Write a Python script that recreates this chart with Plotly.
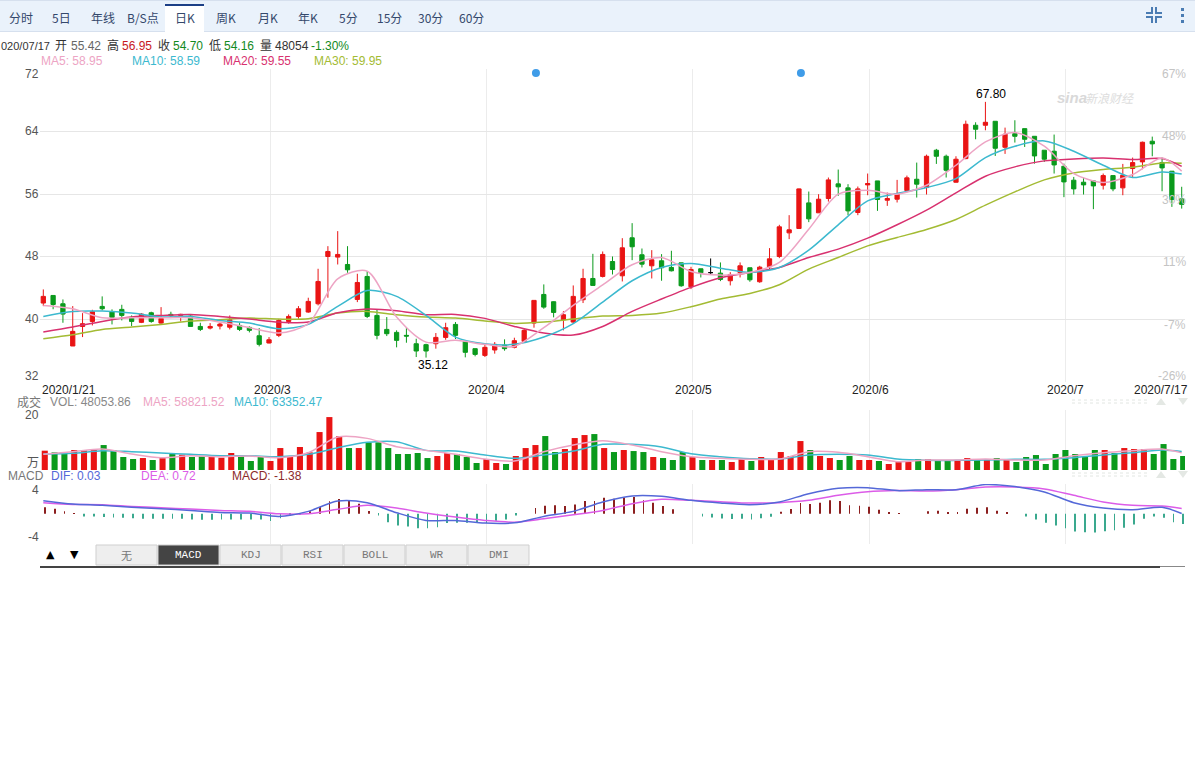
# -*- coding: utf-8 -*-
# K线图 2020/1/21 - 2020/7/17
import plotly.graph_objects as go

# %%
# === Dados ===
month_days = [
    (1, [21, 22, 23]),
    (2, [3, 4, 5, 6, 7, 10, 11, 12, 13, 14, 17, 18, 19, 20, 21, 24, 25, 26, 27, 28]),
    (3, [2, 3, 4, 5, 6, 9, 10, 11, 12, 13, 16, 17, 18, 19, 20, 23, 24, 25, 26, 27, 30, 31]),
    (4, [1, 2, 3, 7, 8, 9, 10, 13, 14, 15, 16, 17, 20, 21, 22, 23, 24, 27, 28, 29, 30]),
    (5, [6, 7, 8, 11, 12, 13, 14, 15, 18, 19, 20, 21, 22, 25, 26, 27, 28, 29]),
    (6, [1, 2, 3, 4, 5, 8, 9, 10, 11, 12, 15, 16, 17, 18, 19, 22, 23, 24, 29, 30]),
    (7, [1, 2, 3, 6, 7, 8, 9, 10, 13, 14, 15, 16, 17]),
]
dates = [f'2020/{m}/{d}' for m, days in month_days for d in days]

opens = [42.09, 43.06, 42.0, 36.6, 39.1, 39.74, 41.66, 40.94, 41.28, 40.26,
         39.62, 40.85, 39.53, 40.64, 40.51, 40.43, 39.1, 38.89, 39.15, 39.0,
         39.23, 38.98, 37.91, 36.98, 37.96, 39.74, 40.38, 40.94, 42.0, 48.04,
         47.96, 47.02, 42.55, 45.49, 40.51, 38.72, 38.34, 37.96, 36.89, 36.77,
         36.89, 37.7, 39.36, 37.19, 36.26, 35.4, 36.09, 36.72, 36.43, 37.19,
         39.53, 43.19, 42.26, 39.96, 39.66, 42.51, 45.23, 45.49, 47.4, 45.57,
         50.43, 48.26, 46.85, 47.49, 46.64, 47.23, 44.17, 46.47, 45.98, 45.91,
         44.94, 46.0, 46.6, 44.81, 46.72, 48.04, 51.06, 51.62, 54.89, 53.62,
         55.45, 57.32, 56.81, 53.66, 57.19, 57.7, 55.23, 55.36, 56.47, 57.91,
         56.85, 61.62, 60.85, 57.53, 60.55, 64.81, 64.81, 65.32, 62.0, 63.74,
         64.38, 63.4, 61.62, 61.49, 59.57, 57.79, 57.53, 57.7, 57.15, 58.38,
         56.81, 59.28, 60.13, 62.77, 60.04, 58.94, 55.42]
closes = [42.94, 41.9, 40.68, 38.47, 39.45, 40.98, 41.36, 40.26, 40.51, 39.74,
          40.68, 39.74, 40.13, 40.47, 40.64, 39.1, 38.72, 39.1, 39.4, 39.96,
          38.72, 38.6, 36.81, 37.4, 39.87, 40.38, 41.36, 42.3, 44.85, 48.68,
          48.3, 46.34, 44.72, 40.38, 37.96, 38.17, 37.32, 37.87, 35.96, 35.96,
          37.7, 38.94, 37.96, 35.79, 35.53, 36.43, 36.81, 36.26, 37.28, 38.6,
          42.43, 41.57, 40.89, 40.6, 42.94, 45.23, 44.34, 48.3, 46.38, 49.15,
          49.28, 47.06, 47.62, 46.6, 46.21, 44.3, 46.38, 45.96, 45.98, 45.11,
          45.74, 46.85, 45.06, 46.68, 47.74, 51.83, 51.45, 56.68, 52.85, 55.36,
          57.83, 56.94, 53.87, 56.68, 57.36, 55.32, 55.45, 56.09, 58.09, 57.28,
          60.85, 60.85, 59.06, 60.47, 64.94, 64.3, 65.19, 61.87, 63.66, 63.4,
          63.02, 60.89, 60.47, 59.74, 57.57, 56.68, 57.19, 57.06, 58.38, 56.68,
          58.43, 60.04, 62.64, 62.43, 59.36, 55.32, 54.7]
highs = [43.83, 43.06, 42.55, 41.7, 40.8, 41.23, 42.94, 41.28, 41.87, 40.51,
         40.81, 40.98, 41.57, 40.98, 40.72, 40.51, 39.57, 39.53, 39.57, 40.5,
         39.57, 39.1, 38.89, 37.74, 40.04, 40.64, 41.7, 42.77, 46.47, 49.36,
         51.28, 49.36, 45.83, 46.17, 41.28, 40.3, 38.6, 39.02, 37.53, 36.89,
         38.26, 39.57, 39.66, 37.19, 36.26, 36.81, 37.1, 37.45, 37.66, 38.81,
         42.43, 44.47, 42.3, 41.06, 44.34, 46.47, 48.38, 48.68, 48.04, 50.38,
         52.3, 49.06, 48.85, 48.34, 48.77, 47.23, 46.72, 46.47, 47.79, 47.28,
         46.04, 47.28, 46.6, 46.85, 49.11, 52.09, 53.32, 56.72, 56.34, 56.0,
         58.13, 59.15, 57.28, 56.98, 58.64, 57.7, 56.21, 57.83, 58.38, 60.04,
         61.06, 61.79, 61.06, 60.85, 65.4, 65.19, 67.8, 65.32, 64.51, 65.45,
         64.38, 63.4, 61.62, 63.62, 59.91, 58.21, 58.09, 57.79, 58.64, 58.38,
         59.87, 60.68, 62.72, 63.36, 60.68, 58.94, 56.95]
lows = [41.7, 41.3, 39.57, 36.6, 37.74, 39.23, 41.15, 39.36, 39.87, 39.15,
        39.53, 39.57, 39.45, 40.17, 39.74, 39.1, 38.51, 38.72, 38.72, 38.72,
        38.51, 38.34, 36.55, 36.94, 37.74, 39.45, 40.09, 40.85, 41.79, 42.77,
        47.02, 45.96, 42.21, 40.17, 37.45, 37.87, 36.43, 37.02, 35.19, 35.12,
        36.26, 37.4, 37.49, 35.15, 35.28, 35.19, 35.62, 36.0, 36.3, 37.06,
        38.94, 41.36, 40.26, 38.6, 39.45, 42.09, 44.34, 45.36, 45.74, 44.85,
        47.57, 46.64, 45.23, 44.94, 46.13, 44.17, 43.87, 45.36, 45.79, 44.89,
        44.34, 45.36, 44.81, 44.68, 46.3, 47.83, 50.26, 51.57, 52.43, 53.62,
        55.06, 55.79, 53.32, 53.32, 55.87, 53.87, 54.51, 54.94, 56.34, 55.57,
        55.96, 59.87, 58.13, 57.49, 60.47, 63.02, 64.17, 60.89, 61.15, 62.6,
        62.04, 59.91, 60.13, 58.64, 55.62, 55.96, 55.96, 54.09, 56.6, 56.38,
        55.87, 58.21, 59.19, 60.85, 56.38, 54.38, 54.16]

ma_dates = dates[0:115:3] + [dates[116]]
ma5 = [41.79, 41.36, 40.21, 40.21, 40.21, 40.21, 39.66, 38.94, 38.26, 39.45,
       45.19, 46.17, 40.3, 37.1, 37.32, 36.81, 36.55, 38.94, 41.79, 44.4,
       46.98, 47.91, 46.13, 45.66, 46.0, 47.28, 51.53, 56.0, 56.51, 56.0,
       57.15, 59.7, 62.68, 63.87, 62.13, 58.64, 57.49, 58.51, 60.64, 58.95]
ma10 = [40.38, 41.02, 41.06, 40.81, 40.3, 40.38, 39.87, 39.53, 38.81, 39.36,
        41.66, 43.7, 42.94, 40.51, 37.74, 36.89, 36.81, 37.74, 39.45, 42.21,
        44.94, 46.64, 47.15, 46.55, 46.0, 46.64, 48.85, 52.09, 55.15, 56.09,
        56.85, 58.0, 60.68, 62.13, 62.81, 61.49, 59.7, 58.13, 58.85, 58.59]
ma20 = [38.38, 39.02, 39.74, 40.3, 40.51, 40.64, 40.38, 40.04, 39.66, 39.66,
        40.85, 41.32, 41.11, 40.6, 40.64, 40.13, 39.1, 38.26, 38.0, 39.1,
        41.02, 42.6, 44.09, 45.32, 46.0, 46.64, 47.91, 48.98, 50.38, 52.09,
        53.96, 56.17, 58.3, 59.49, 60.26, 60.51, 60.64, 60.43, 60.55, 59.55]
ma30 = [37.53, 38.04, 38.72, 39.02, 39.36, 39.79, 39.96, 40.17, 40.04, 40.09,
        40.81, 41.02, 40.6, 40.3, 40.17, 39.79, 39.49, 39.66, 40.04, 40.43,
        40.51, 40.81, 41.62, 42.6, 43.32, 44.43, 46.43, 47.91, 49.4, 50.47,
        51.49, 52.77, 54.6, 56.3, 57.83, 58.72, 59.15, 59.45, 60.0, 59.95]

volumes = [6.63, 6.06, 5.94, 6.86, 6.74, 7.2, 8.57, 6.86, 4.46, 3.77,
           4.11, 3.43, 4.11, 5.49, 5.26, 4.46, 4.69, 4.46, 4.23, 5.83,
           4.8, 3.09, 4.46, 3.09, 7.54, 4.57, 7.89, 6.06, 13.03, 18.17,
           11.66, 7.54, 7.54, 9.49, 9.49, 7.54, 5.49, 5.49, 5.83, 4.11,
           4.8, 5.83, 5.49, 4.46, 2.4, 3.77, 2.4, 2.06, 4.8, 7.54,
           8.57, 11.66, 6.17, 7.2, 10.97, 12.0, 12.34, 7.54, 6.17, 6.86,
           6.51, 6.17, 4.46, 4.11, 3.43, 6.17, 4.46, 3.43, 3.43, 3.43,
           2.74, 3.77, 3.09, 4.46, 3.43, 6.17, 4.8, 9.94, 6.86, 4.8,
           4.11, 3.43, 4.8, 3.43, 3.43, 3.09, 2.06, 2.74, 2.74, 3.77,
           3.77, 3.43, 3.09, 3.09, 4.11, 3.77, 3.43, 4.11, 3.77, 2.74,
           4.46, 5.14, 2.06, 5.49, 6.86, 5.49, 4.46, 6.86, 6.86, 5.83,
           7.54, 7.2, 7.2, 5.49, 8.91, 3.77, 4.81]
vol_ma5 = [5.37, 6.29, 7.2, 5.49, 4.23, 4.91, 4.57, 4.8, 4.23, 5.94,
           11.31, 10.86, 8.0, 6.74, 5.37, 3.77, 3.09, 6.29, 8.57, 10.06,
           8.57, 6.29, 4.57, 4.0, 3.66, 3.77, 6.29, 6.06, 4.57, 2.86,
           3.43, 3.43, 3.77, 3.43, 3.43, 4.91, 5.94, 6.63, 7.2, 5.88]
vol_ma10 = [5.49, 5.71, 6.63, 6.29, 5.83, 5.37, 4.91, 4.91, 4.57, 5.37,
            7.66, 9.49, 9.71, 6.74, 6.51, 5.14, 4.0, 5.14, 6.51, 8.8,
            8.8, 7.89, 5.6, 4.57, 3.89, 3.77, 5.14, 5.37, 5.14, 3.77,
            3.31, 3.31, 3.43, 3.66, 3.66, 4.23, 5.14, 5.94, 6.86, 6.34]

dif = [1.76, 1.31, 1.13, 0.86, 0.68, 0.45, 0.18, 0.09, -0.36, 0.32,
       1.71, 1.49, 0.14, -0.9, -0.9, -1.26, -1.22, -0.36, 0.32, 1.58,
       2.39, 2.34, 1.8, 1.44, 1.22, 1.58, 2.7, 3.42, 3.51, 3.11,
       3.24, 3.24, 3.92, 3.65, 2.93, 1.49, 0.77, 0.54, 0.86, 0.03]
dea = [1.49, 1.26, 1.22, 0.99, 0.81, 0.63, 0.45, 0.32, 0.0, 0.0,
       0.59, 1.13, 0.77, 0.09, -0.45, -0.9, -1.13, -0.68, -0.14, 0.45,
       1.35, 1.94, 1.8, 1.62, 1.44, 1.49, 1.8, 2.48, 2.97, 3.11,
       3.06, 3.24, 3.6, 3.6, 3.33, 2.48, 1.58, 1.13, 1.04, 0.72]
macd = [0.86, 0.68, 0.32, 0.04, -0.36, -0.36, -0.45, -0.5, -0.54, -0.59,
        -0.68, -0.68, -0.68, -0.68, -0.68, -0.77, -0.81, -0.81, -0.77, -0.77,
        -0.77, -0.77, -0.77, -0.99, -0.59, -0.23, -0.05, 0.32, 0.9, 1.67,
        1.98, 1.8, 1.35, 0.36, -0.23, -1.13, -1.58, -1.71, -1.94, -1.94,
        -1.8, -1.26, -1.22, -1.22, -1.26, -1.26, -0.95, -0.77, -0.23, 0.0,
        0.77, 1.08, 1.13, 1.04, 1.26, 1.71, 1.71, 2.16, 2.03, 2.16,
        2.25, 1.8, 1.49, 1.04, 0.59, 0.0, 0.0, -0.36, -0.5, -0.63,
        -0.72, -0.68, -0.77, -0.59, -0.41, 0.27, 0.63, 1.44, 1.31, 1.49,
        1.8, 1.71, 1.13, 1.08, 0.95, 0.54, 0.18, 0.02, 0.0, 0.0,
        0.32, 0.41, 0.14, 0.14, 0.68, 0.81, 0.86, 0.41, 0.18, 0.0,
        -0.36, -0.77, -1.22, -1.58, -1.94, -2.39, -2.48, -2.52, -2.34, -2.21,
        -1.89, -1.44, -0.68, -0.36, -0.54, -1.13, -1.38]

price_ticks = [72, 64, 56, 48, 40, 32]
pct_ticks = ['67%', '48%', '30%', '11%', '-7%', '-26%']
month_ticks = ['2020/3/2', '2020/4/1', '2020/5/6', '2020/6/1', '2020/7/1']
month_labels = ['2020/3', '2020/4', '2020/5', '2020/6', '2020/7']
tab_labels = ['分时', '5日', '年线', 'B/S点', '日K', '周K', '月K', '年K', '5分', '15分', '30分', '60分']
index_labels = ['无', 'MACD', 'KDJ', 'RSI', 'BOLL', 'WR', 'DMI']
flat_days = [68]  # abertura = fechamento, desenhado em preto
dot_days = [50, 77]
TICK_SHIFT = 0.2  # grade e bolinhas ficam um pouco à direita do candle

RED, GREEN = '#e91414', '#0a9a1c'
C_MA5, C_MA10, C_MA20, C_MA30 = '#eda4c4', '#3cb9cf', '#d8316f', '#a3bb33'
C_DIF, C_DEA = '#5468d8', '#dc5ce8'
FONT = 'Liberation Sans, Arial, Noto Sans CJK SC, sans-serif'
CJK = 'Noto Sans CJK SC, sans-serif'
W, H = 1195, 761


def px(x):
    return x / W


def py(y):
    return 1 - y / H


# %%
# === Painéis ===
fig = go.Figure()

keep = [i for i in range(len(dates)) if i not in flat_days]
fig.add_trace(go.Candlestick(
    x=[dates[i] for i in keep],
    open=[opens[i] for i in keep], high=[highs[i] for i in keep],
    low=[lows[i] for i in keep], close=[closes[i] for i in keep],
    increasing=dict(line=dict(color=RED, width=1), fillcolor=RED),
    decreasing=dict(line=dict(color=GREEN, width=1), fillcolor=GREEN),
    xaxis='x', yaxis='y', whiskerwidth=0,
))
fig.add_trace(go.Candlestick(
    x=[dates[i] for i in flat_days],
    open=[opens[i] for i in flat_days], high=[highs[i] for i in flat_days],
    low=[lows[i] for i in flat_days], close=[closes[i] for i in flat_days],
    increasing=dict(line=dict(color='#000000', width=1), fillcolor='#000000'),
    decreasing=dict(line=dict(color='#000000', width=1), fillcolor='#000000'),
    xaxis='x', yaxis='y',
))
for vals, color in [(ma30, C_MA30), (ma20, C_MA20), (ma10, C_MA10), (ma5, C_MA5)]:
    fig.add_trace(go.Scatter(x=ma_dates, y=vals, mode='lines', xaxis='x', yaxis='y',
                             line=dict(color=color, width=1.5, shape='spline', smoothing=0.8)))
fig.add_trace(go.Scatter(x=[d + TICK_SHIFT for d in dot_days], y=[71.5, 71.5], mode='markers',
                         xaxis='x4', yaxis='y', cliponaxis=False,
                         marker=dict(color='#3f9ce8', size=8)))

vol_colors = [RED if c >= o else GREEN for o, c in zip(opens, closes)]
fig.add_trace(go.Bar(x=dates, y=volumes, xaxis='x2', yaxis='y2', width=0.62, offset=-0.16,
                     marker=dict(color=vol_colors, line=dict(width=0))))
for vals, color in [(vol_ma10, C_MA10), (vol_ma5, C_MA5)]:
    fig.add_trace(go.Scatter(x=ma_dates, y=vals, mode='lines', xaxis='x2', yaxis='y2',
                             line=dict(color=color, width=1.5, shape='spline', smoothing=0.8)))

macd_colors = ['#8c1f1f' if v >= 0 else '#3aa98e' for v in macd]
fig.add_trace(go.Bar(x=dates, y=macd, xaxis='x3', yaxis='y3', width=0.08, offset=0.12,
                     marker=dict(color=macd_colors, line=dict(width=0))))
for vals, color in [(dea, C_DEA), (dif, C_DIF)]:
    fig.add_trace(go.Scatter(x=ma_dates, y=vals, mode='lines', xaxis='x3', yaxis='y3',
                             line=dict(color=color, width=1.5, shape='spline', smoothing=0.8)))

x_left, x_right = 40, 1185
x_range = [(x_left - 43.3) / 9.814, 116 + (x_right - 1181.7) / 9.814]
grid_pos = [dates.index(d) + TICK_SHIFT for d in month_ticks]
x_common = dict(type='category', categoryorder='array', categoryarray=dates,
                domain=[px(x_left), px(x_right)], range=x_range, tickmode='array',
                tickvals=grid_pos, showticklabels=False, ticks='', showgrid=True,
                gridcolor='#ececec', gridwidth=1, zeroline=False, showline=False,
                rangeslider=dict(visible=False), fixedrange=True)

fig.update_layout(
    width=W, height=H, margin=dict(l=0, r=0, t=0, b=0),
    paper_bgcolor='white', plot_bgcolor='white', showlegend=False,
    boxgap=0.38, barmode='overlay', hovermode=False,
    font=dict(family=FONT, size=12, color='#444444'),
    xaxis=x_common,
    xaxis2={**x_common, 'anchor': 'y2'},
    xaxis3={**x_common, 'anchor': 'y3'},
    xaxis4=dict(type='linear', domain=[px(x_left), px(x_right)], range=x_range, overlaying='x',
                visible=False, fixedrange=True),
    yaxis=dict(domain=[py(382), py(69)], range=[32, 72], tickmode='array', tickvals=price_ticks,
               showticklabels=False, ticks='', gridcolor='#e6e6e6', zeroline=False, fixedrange=True),
    yaxis2=dict(domain=[py(470), py(410)], range=[0, 20.6], tickvals=[20.6], showticklabels=False,
                ticks='', gridcolor='#e6e6e6', zeroline=False, fixedrange=True, anchor='x2'),
    yaxis3=dict(domain=[py(543.5), py(484)], range=[-4, 4], tickvals=[-4, 4], showticklabels=False,
                ticks='', gridcolor='#e6e6e6', zeroline=False, fixedrange=True, anchor='x3'),
)

# %%
# === Textos e barras de botões ===
shapes = []
notes = []


def text(x, y, s, color='#444444', anchor='left', size=12, family=FONT, **kw):
    notes.append(dict(x=px(x), y=py(y), xref='paper', yref='paper', text=s, showarrow=False,
                      xanchor=anchor, yanchor='middle', align=anchor,
                      font=dict(family=family, size=size, color=color), borderpad=0, **kw))


def rect(x0, y0, x1, y1, fill, line=None, layer='above'):
    shapes.append(dict(type='rect', xref='paper', yref='paper', x0=px(x0), y0=py(y0), x1=px(x1), y1=py(y1),
                       fillcolor=fill, line=dict(color=line or fill, width=1 if line else 0), layer=layer))


def path(points, color, width=2, fill=None):
    d = 'M' + ' L'.join(f'{px(a):.5f},{py(b):.5f}' for a, b in points)
    if fill:
        d += ' Z'
    shapes.append(dict(type='path', xref='paper', yref='paper', path=d, fillcolor=fill,
                       line=dict(color=color, width=width)))


# barra de abas
rect(0, 0, W, 31, '#eaf2fb')
rect(0, 31, W, 32, '#d6e0ee')
rect(0, 0, W, 1, '#d6e0ee')
rect(165, 4, 204, 32, '#ffffff')
rect(165, 4, 204, 6, '#1c3f86')
tab_x = [21, 61, 103, 143, 185, 226, 268, 308, 348, 389, 430, 471]
for x, s in zip(tab_x, tab_labels):
    text(x, 17, s, color='#34486b', anchor='center', family=CJK)

# icones
ICON = '#4a7cb3'
path([(1146, 13), (1152, 13), (1152, 7)], ICON)
path([(1156, 7), (1156, 13), (1162, 13)], ICON)
path([(1146, 17), (1152, 17), (1152, 23)], ICON)
path([(1156, 23), (1156, 17), (1162, 17)], ICON)
for y in (8, 14, 20):
    rect(1181, y, 1184, y + 3, ICON)

# cabeçalho (a data aparece cortada na esquerda, como na tela original)
text(0, 46, '020/07/17', color='#333333', size=11)
header = [(54, '开', '#333333'), (70, '55.42', '#666666'),
          (106, '高', '#333333'), (121, '56.95', '#c8181e'), (157, '收', '#333333'), (172, '54.70', '#128a1e'),
          (208, '低', '#333333'), (223, '54.16', '#128a1e'), (259, '量', '#333333'), (274, '48054', '#333333'),
          (310, '-1.30%', '#128a1e')]
for x, s, c in header:
    text(x, 46, s, color=c)
for x, s, c in [(40, 'MA5: 58.95', C_MA5), (131, 'MA10: 58.59', C_MA10),
                (222, 'MA20: 59.55', C_MA20), (313, 'MA30: 59.95', C_MA30)]:
    text(x, 61, s, color=c)

# eixos do preço
label_y = [74, 131, 194, 256, 319, 376]
for y, v in zip(label_y, price_ticks):
    text(40, y, str(v), color='#555555', anchor='right')
pct_y = [74, 136, 200, 262, 325, 376]
for y, s in zip(pct_y, pct_ticks):
    text(1187, y, s, color='#c4c4c4', anchor='right')

text(41, 390, dates[0], color='#222222')
for x, s in zip([272, 487, 693, 870, 1065], month_labels):
    text(x, 390, s, color='#222222', anchor='center')
text(1189, 390, dates[-1], color='#222222', anchor='right')

notes.append(dict(x=dates[96], y=highs[96], xref='x', yref='y', text='67.80', showarrow=False,
                  xshift=6, yshift=-1, yanchor='bottom', font=dict(family=FONT, size=12, color='#000000')))
notes.append(dict(x=dates[39], y=lows[39], xref='x', yref='y', text='35.12', showarrow=False,
                  xshift=7, yshift=2, yanchor='top', font=dict(family=FONT, size=12, color='#000000')))

# marca d'água
text(1056, 97, '<b><i>sina</i></b>', color='#d9d9d9', size=15)
text(1084, 97, '<i>新浪财经</i>', color='#dddddd', family=CJK)

# volume
for x, s, c in [(16, '成交', '#777777'), (49, 'VOL: 48053.86', '#888888'),
                (142, 'MA5: 58821.52', C_MA5), (233, 'MA10: 63352.47', C_MA10)]:
    text(x, 402, s, color=c)
text(40, 415, '20', color='#555555', anchor='right')
text(40, 463, '万', color='#555555', anchor='right')

# MACD
for x, s, c in [(7, 'MACD', '#777777'), (50, 'DIF: 0.03', C_DIF), (140, 'DEA: 0.72', C_DEA),
                (231, 'MACD: -1.38', '#8c2a2a')]:
    text(x, 476, s, color=c)
text(40, 490, '4', color='#555555', anchor='right')
text(40, 537, '-4', color='#555555', anchor='right')

# controles de zoom apagados
for y in (402, 475):
    for a in (0, 1):
        shapes.append(dict(type='line', xref='paper', yref='paper', x0=px(1072), x1=px(1150),
                           y0=py(y - 2 + 3 * a), y1=py(y - 2 + 3 * a),
                           line=dict(color='#e2e6e2', width=1, dash='dot')))
    path([(1156, y + 3), (1161, y - 4), (1166, y + 3)], '#e4e8e4', width=0, fill='#e4e8e4')
    path([(1178, y - 4), (1183, y + 3), (1188, y - 4)], '#e4e8e4', width=0, fill='#e4e8e4')

# botões dos indicadores
text(50, 554, '▲', color='#000000', anchor='center', size=11, family='DejaVu Sans')
text(74, 554, '▼', color='#000000', anchor='center', size=11, family='DejaVu Sans')
for k, s in enumerate(index_labels):
    x0 = 96 + 62 * k
    active = s == 'MACD'
    rect(x0, 545, x0 + 61, 565, '#444444' if active else '#eeeeee', line='#cfcfcf')
    text(x0 + 30.5, 555, s, color='#ffffff' if active else '#777777', anchor='center', size=11,
         family='Noto Sans CJK SC' if s == '无' else 'Liberation Mono')
rect(40, 566, 1160, 568, '#444444')
rect(1160, 566, 1185, 567, '#888888')

fig.update_layout(shapes=shapes, annotations=notes)

fig.write_html('out.html', config={'displayModeBar': False},
               post_script="document.body.style.margin='0';")
